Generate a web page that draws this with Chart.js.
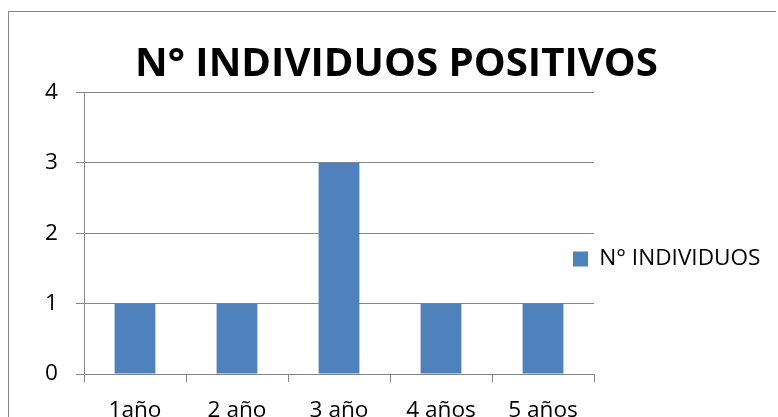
<!DOCTYPE html>
<html>
<head>
<meta charset="utf-8">
<title>N° INDIVIDUOS POSITIVOS</title>
<script src="https://cdn.jsdelivr.net/npm/chart.js@4.4.1/dist/chart.umd.min.js"></script>
<style>
  html, body { margin: 0; padding: 0; background: #fff; overflow: hidden; }
  canvas { display: block; }
</style>
</head>
<body>
<canvas id="chart" width="778" height="417"></canvas>
<script>
const categories = ['1año', '2 año', '3 año', '4 años', '5 años'];
const individuos = [1, 1, 3, 1, 1];
const yTicks = [0, 1, 2, 3, 4];
const seriesLabel = 'N° INDIVIDUOS';
const chartTitle = 'N° INDIVIDUOS POSITIVOS';

const fontFamily = '"Open Sans", "Liberation Sans", sans-serif';
const barColor = '#4F81BD';
const lineColor = '#868686';

// pick font sizes so the text spans about as wide as in the original (Calibri)
const probe = document.createElement('canvas').getContext('2d');
function sizeFor(text, weight, width) {
  probe.font = `${weight} 100px ${fontFamily}`;
  return Math.round(100 * width / probe.measureText(text).width * 10) / 10;
}
const titleSize = sizeFor(chartTitle, 'bold', 523);
const labelSize = sizeFor(seriesLabel, 'normal', 161);

// outer chart frame: only its left and top edges are inside the picture
const frame = {
  id: 'frame',
  beforeDraw(chart) {
    const ctx = chart.ctx;
    ctx.save();
    ctx.fillStyle = lineColor;
    ctx.fillRect(8, 11, 1, chart.height - 11);
    ctx.fillRect(8, 11, chart.width - 10, 1);
    ctx.restore();
  }
};

// the legend sits partly over the plot area in the source, so move it there
const legendSpot = {
  id: 'legendSpot',
  afterLayout(chart) {
    const lg = chart.legend;
    const h = lg.height;
    lg.left = 573;
    lg.right = chart.width - 2;
    lg.top = 259 - labelSize / 2;
    lg.bottom = lg.top + h;
  }
};

const ctx = document.getElementById('chart').getContext('2d');

new Chart(ctx, {
  type: 'bar',
  data: {
    labels: categories,
    datasets: [
      {
        label: seriesLabel,
        data: individuos,
        backgroundColor: barColor,
        barPercentage: 0.4,
        categoryPercentage: 1,
      },
    ],
  },
  options: {
    responsive: false,
    animation: false,
    devicePixelRatio: 1,
    layout: {
      padding: { left: 15, top: 12, right: 0, bottom: 0 },
    },
    plugins: {
      title: {
        display: true,
        text: chartTitle,
        color: '#000',
        font: { family: fontFamily, size: titleSize, weight: 'bold', lineHeight: 1 },
        padding: { top: 32, bottom: 8 },
      },
      legend: {
        position: 'right',
        align: 'start',
        maxWidth: 184,
        labels: {
          color: '#000',
          boxWidth: 15,
          boxHeight: 15,
          padding: 0,
          font: { family: fontFamily, size: labelSize },
        },
      },
      tooltip: { enabled: false },
    },
    scales: {
      x: {
        afterFit: (scale) => { scale.height = 43; },
        grid: {
          drawOnChartArea: false,
          drawTicks: true,
          tickLength: 8,
          color: lineColor,
        },
        border: { color: lineColor, width: 1 },
        ticks: {
          color: '#000',
          padding: 15,
          autoSkip: false,
          maxRotation: 0,
          font: { family: fontFamily, size: labelSize },
        },
      },
      y: {
        min: yTicks[0],
        max: yTicks[yTicks.length - 1],
        afterFit: (scale) => { scale.width = 69; },
        grid: {
          color: lineColor,
          tickLength: 8,
        },
        border: { color: lineColor, width: 1 },
        ticks: {
          stepSize: yTicks[1] - yTicks[0],
          color: '#000',
          padding: 18,
          font: { family: fontFamily, size: labelSize },
        },
      },
    },
  },
  plugins: [frame, legendSpot],
});
</script>
</body>
</html>
